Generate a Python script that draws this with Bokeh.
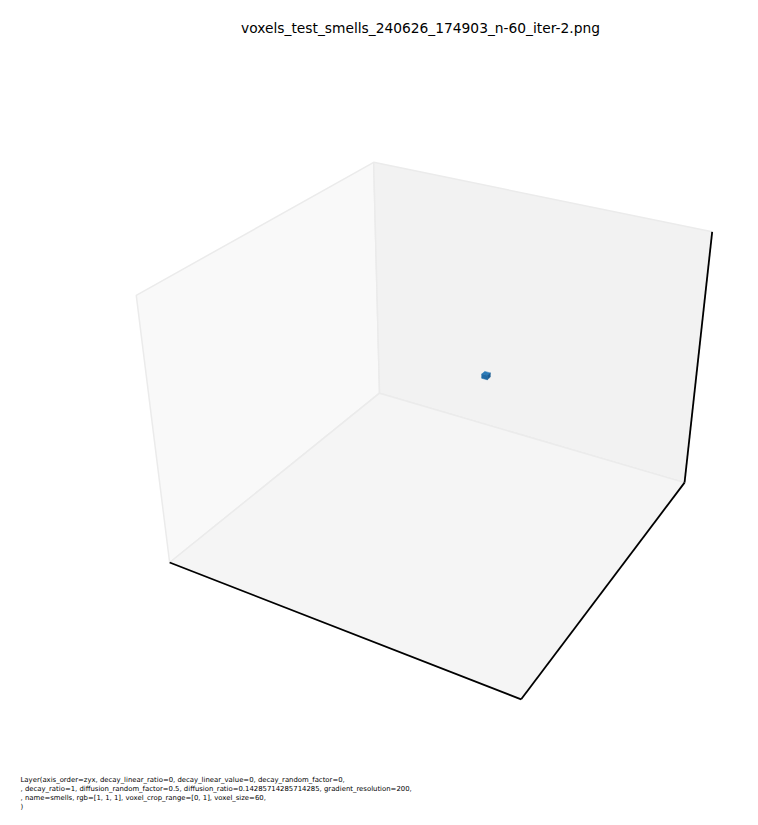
import numpy as np
from bokeh.plotting import figure
from bokeh.models import Range1d, Label
from bokeh.embed import file_html
from bokeh.resources import INLINE

# --- data -------------------------------------------------------------
title = "voxels_test_smells_240626_174903_n-60_iter-2.png"
layer_info = ("Layer(axis_order=zyx, decay_linear_ratio=0, decay_linear_value=0, decay_random_factor=0,\n"
              ", decay_ratio=1, diffusion_random_factor=0.5, diffusion_ratio=0.14285714285714285, gradient_resolution=200,\n"
              ", name=smells, rgb=[1, 1, 1], voxel_crop_range=[0, 1], voxel_size=60,\n"
              ")")
voxel_size = 60
xlim = [0, 60]
ylim = [0, 60]
zlim = [0, 60]
vox_x = [32]
vox_y = [40]
vox_z = [29]

# camera
elev, azim = 30.0, -60.0
box_aspect = np.array([4.0, 4.0, 3.0])
dist = 3.367

# --- projection ---------------------------------------------------------
A = box_aspect / box_aspect[0]
R = A / 2
e, a = np.deg2rad(elev), np.deg2rad(azim)
w = np.array([np.cos(e) * np.cos(a), np.cos(e) * np.sin(a), np.sin(e)])
eye = R + dist * w
u = np.cross([0, 0, 1], w)
u /= np.linalg.norm(u)
v = np.cross(w, u)


def proj(x, y, z):
    P = np.column_stack([(np.asarray(x, float) - xlim[0]) / (xlim[1] - xlim[0]) * A[0],
                         (np.asarray(y, float) - ylim[0]) / (ylim[1] - ylim[0]) * A[1],
                         (np.asarray(z, float) - zlim[0]) / (zlim[1] - zlim[0]) * A[2]])
    D = P - eye
    zv = -(D @ w)
    return list((D @ u) / zv), list((D @ v) / zv)


# --- figure -------------------------------------------------------------
scale, cx, cy = 1337.2, 438.07, 398.11
W, H = 750, 817
p = figure(width=W, height=H, output_backend="svg", toolbar_location=None,
           x_range=Range1d(-cx / scale, (W - cx) / scale),
           y_range=Range1d((cy - H) / scale, cy / scale),
           min_border=0)
p.axis.visible = False
p.grid.visible = False
p.outline_line_color = None

x0, x1 = xlim
y0, y1 = ylim
z0, z1 = zlim
panes = [
    ([x0, x0, x0, x0], [y0, y1, y1, y0], [z0, z0, z1, z1], "#f9f9f9"),  # x pane
    ([x0, x1, x1, x0], [y1, y1, y1, y1], [z0, z0, z1, z1], "#f2f2f2"),  # y pane
    ([x0, x1, x1, x0], [y0, y0, y1, y1], [z0, z0, z0, z0], "#f5f5f5"),  # floor
]
for xs, ys, zs, col in panes:
    tx, ty = proj(xs, ys, zs)
    p.patch(tx, ty, fill_color=col, line_color="#ebebeb", line_width=1.5)

# axis lines
for xs, ys, zs in [([x0, x1], [y0, y0], [z0, z0]),
                   ([x1, x1], [y0, y1], [z0, z0]),
                   ([x1, x1], [y1, y1], [z0, z1])]:
    tx, ty = proj(xs, ys, zs)
    p.line(tx, ty, line_color="black", line_width=1.8)

# voxels: visible faces (+z, -y, +x)
for i, j, k in zip(vox_x, vox_y, vox_z):
    faces = [
        ([i, i + 1, i + 1, i], [j, j, j + 1, j + 1], [k + 1] * 4, "#2a7bb9"),
        ([i, i + 1, i + 1, i], [j] * 4, [k, k, k + 1, k + 1], "#1f6aa6"),
        ([i + 1] * 4, [j, j + 1, j + 1, j], [k, k, k + 1, k + 1], "#1a5c93"),
    ]
    for xs, ys, zs, col in faces:
        tx, ty = proj(xs, ys, zs)
        p.patch(tx, ty, fill_color=col, line_color=col, line_width=0.5)


def at(px, py):
    return (px - cx) / scale, (cy - py) / scale


tx, ty = at(420, 27)
p.add_layout(Label(x=tx, y=ty, text=title, text_font="DejaVu Sans", text_font_size="13.8px",
                   text_align="center", text_baseline="middle", text_color="black"))
tx, ty = at(20, 775)
p.add_layout(Label(x=tx, y=ty, text=layer_info, text_font="DejaVu Sans", text_font_size="6.9px",
                   text_align="left", text_baseline="top", text_color="black", text_line_height=1.15))

open("out.html", "w").write(file_html(p, INLINE))
